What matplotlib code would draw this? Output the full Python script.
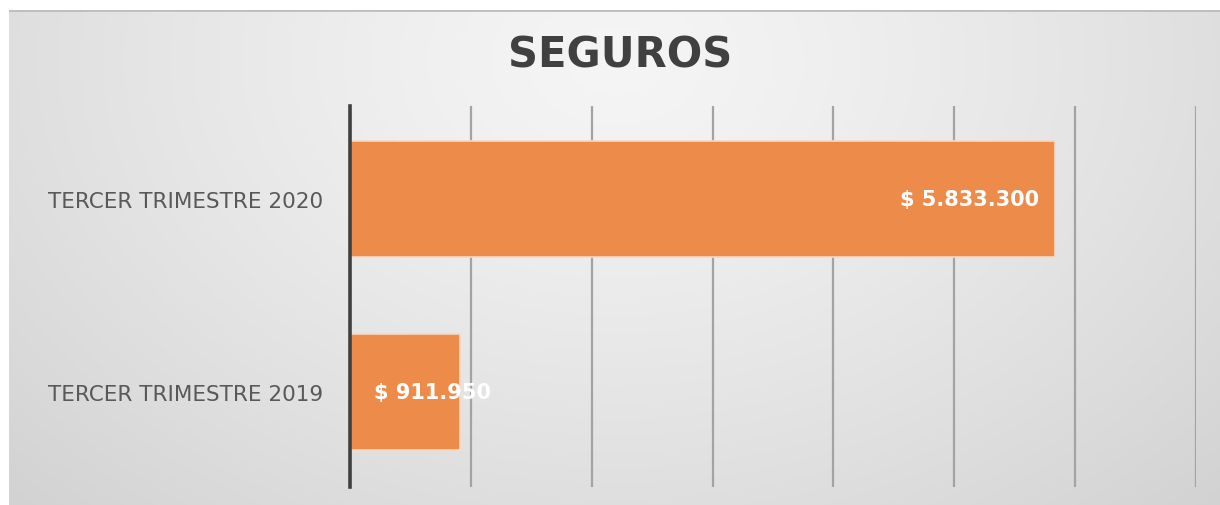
import numpy as np
import matplotlib
matplotlib.use("Agg")
import matplotlib.pyplot as plt
from matplotlib.ticker import MultipleLocator

title = "SEGUROS"
categories = ["TERCER TRIMESTRE 2019", "TERCER TRIMESTRE 2020"]
values = [911950, 5833300]
value_labels = ["$ 911.950", "$ 5.833.300"]

W, H = 1220, 506
fig = plt.figure(figsize=(W / 100, H / 100), dpi=100)
fig.patch.set_facecolor("white")

# gradient background panel
bg = fig.add_axes([9 / W, 0, 1 - 9 / W, 1 - 11 / H])
bg.set_axis_off()
yy, xx = np.mgrid[0:200, 0:500]
cx, cy = 250, 20
d = np.sqrt(((xx - cx) / 420.0) ** 2 + ((yy - cy) / 300.0) ** 2)
d = np.clip(d, 0, 1)
shade = 0.96 - 0.17 * d ** 1.3
img = np.dstack([shade, shade, shade])
bg.imshow(img, aspect="auto", extent=[0, 1, 0, 1], origin="upper", interpolation="bilinear")
bg.set_xlim(0, 1)
bg.set_ylim(0, 1)
bg.axhline(1, color="#bdbdbd", lw=2)

# main axes
left, right = 350 / W, 1196 / W
bottom, top = 1 - 488 / H, 1 - 107 / H
ax = fig.add_axes([left, bottom, right - left, top - bottom])
ax.set_facecolor("none")
ax.set_xlim(0, 7000000)
ax.set_ylim(-0.49, 1.48)
ax.xaxis.set_major_locator(MultipleLocator(1000000))
ax.grid(axis="x", color="#a3a3a3", lw=1.6, zorder=0)
ax.set_axisbelow(True)
for s in ["top", "right", "bottom"]:
    ax.spines[s].set_visible(False)
ax.spines["left"].set_color("#404040")
ax.spines["left"].set_linewidth(2.6)
ax.spines["left"].set_zorder(5)
ax.tick_params(axis="x", length=0, labelbottom=False)
ax.tick_params(axis="y", length=0, pad=19.5)

ypos = np.arange(len(categories))
ax.barh(ypos, values, height=0.6, color="#EC8B4A", edgecolor="#f7d9c4", linewidth=1.2, zorder=2)
ax.set_yticks(ypos)
ax.set_yticklabels(categories, fontsize=15.5, color="#595959", fontfamily="DejaVu Sans")

for i, (v, lab) in enumerate(zip(values, value_labels)):
    if v > 2000000:
        ax.text(v - 130000, i, lab, ha="right", va="center", color="white",
                fontsize=15, fontweight="bold", fontfamily="DejaVu Sans", zorder=4)
    else:
        ax.text(200000, i, lab, ha="left", va="center", color="white",
                fontsize=15, fontweight="bold", fontfamily="DejaVu Sans", zorder=4)

fig.text(620 / W, 1 - 55 / H, title, ha="center", va="center", fontsize=30,
         fontweight="bold", color="#404040", fontfamily="DejaVu Sans")

fig.savefig("out.png", dpi=100)
